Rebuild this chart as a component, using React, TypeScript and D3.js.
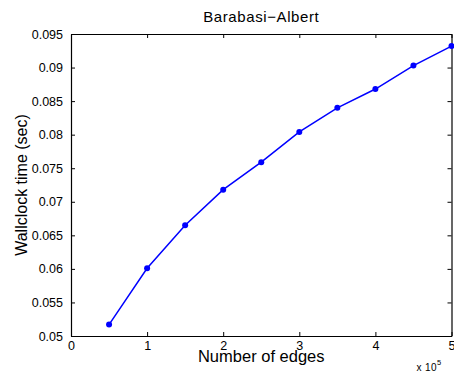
import React, { useEffect, useRef } from "react";
import * as d3 from "d3";

// Barabasi-Albert timings
const edges = [0.5, 1, 1.5, 2, 2.5, 3, 3.5, 4, 4.5, 5]; // x 10^5
const wallclock = [0.0517, 0.0601, 0.0665, 0.0718, 0.0759, 0.0804, 0.084, 0.0868, 0.0903, 0.0932];
const xTicks = [0, 1, 2, 3, 4, 5];
const yTicks = [0.05, 0.055, 0.06, 0.065, 0.07, 0.075, 0.08, 0.085, 0.09, 0.095];
const yTickLabels = ["0.05", "0.055", "0.06", "0.065", "0.07", "0.075", "0.08", "0.085", "0.09", "0.095"];

const App = () => {
  const ref = useRef<SVGSVGElement>(null);

  useEffect(() => {
    const width = 454,
      height = 373;
    const margin = { top: 34, right: 2.5, bottom: 37, left: 71 };
    const font = "Liberation Sans, Arial, Helvetica, sans-serif";

    const svg = d3.select(ref.current);
    svg.selectAll("*").remove();

    const x = d3
      .scaleLinear()
      .domain([0, 5])
      .range([margin.left, width - margin.right]);
    const y = d3
      .scaleLinear()
      .domain([0.05, 0.095])
      .range([height - margin.bottom, margin.top]);

    const tickLen = 4;
    const g = svg.append("g");

    // bottom axis, ticks inward
    const bottom = g
      .append("g")
      .attr("transform", `translate(0, ${y(0.05)})`)
      .call(
        d3
          .axisBottom(x)
          .tickValues(xTicks)
          .tickSizeInner(-tickLen)
          .tickSizeOuter(0)
          .tickPadding(5)
          .tickFormat((d) => String(d))
      );
    bottom.selectAll("text").attr("font-size", 12.5).attr("font-family", font).attr("fill", "#000");

    // top axis (box), no labels
    g.append("g")
      .attr("transform", `translate(0, ${y(0.095)})`)
      .call(d3.axisTop(x).tickValues(xTicks).tickSizeInner(-tickLen).tickSizeOuter(0).tickFormat(() => ""));

    // left axis
    const left = g
      .append("g")
      .attr("transform", `translate(${x(0)}, 0)`)
      .call(
        d3
          .axisLeft(y)
          .tickValues(yTicks)
          .tickSizeInner(-tickLen)
          .tickSizeOuter(0)
          .tickPadding(8)
          .tickFormat((d, i) => yTickLabels[i])
      );
    left.selectAll("text").attr("font-size", 12.5).attr("font-family", font).attr("fill", "#000");

    // right axis (box)
    g.append("g")
      .attr("transform", `translate(${x(5)}, 0)`)
      .call(d3.axisRight(y).tickValues(yTicks).tickSizeInner(-tickLen).tickSizeOuter(0).tickFormat(() => ""));

    g.selectAll(".domain").attr("stroke", "#000").attr("stroke-width", 1.2);
    g.selectAll(".tick line").attr("stroke", "#000").attr("stroke-width", 1);

    // line
    const line = d3
      .line<number>()
      .x((d, i) => x(edges[i]))
      .y((d) => y(d));

    svg
      .append("path")
      .datum(wallclock)
      .attr("d", line)
      .attr("fill", "none")
      .attr("stroke", "#0000ff")
      .attr("stroke-width", 1.5);

    svg
      .append("g")
      .selectAll("circle")
      .data(wallclock)
      .enter()
      .append("circle")
      .attr("cx", (d, i) => x(edges[i]))
      .attr("cy", (d) => y(d))
      .attr("r", 3)
      .attr("fill", "#0000ff");

    // labels
    svg
      .append("text")
      .attr("x", (x(0) + x(5)) / 2)
      .attr("y", 22)
      .attr("text-anchor", "middle")
      .attr("font-family", font)
      .attr("font-size", 15)
      .attr("letter-spacing", 0.6)
      .text("Barabasi\u2212Albert");

    svg
      .append("text")
      .attr("x", (x(0) + x(5)) / 2)
      .attr("y", 362)
      .attr("text-anchor", "middle")
      .attr("font-family", font)
      .attr("font-size", 16.5)
      .text("Number of edges");

    svg
      .append("text")
      .attr("transform", `translate(27, ${(y(0.05) + y(0.095)) / 2}) rotate(-90)`)
      .attr("text-anchor", "middle")
      .attr("font-family", font)
      .attr("font-size", 16)
      .text("Wallclock time (sec)");

    const exp = svg
      .append("text")
      .attr("x", 416.5)
      .attr("y", 370.5)
      .attr("font-family", font)
      .attr("font-size", 10)
      .attr("letter-spacing", 0.4);
    exp.append("tspan").text("x 10");
    exp.append("tspan").attr("dy", -5.5).attr("font-size", 7.5).text("5");
  }, []);

  return (
    <svg
      ref={ref}
      width={454}
      height={373}
      style={{ position: "absolute", left: 0, top: 0, background: "#fff" }}
    />
  );
};

export default App;
